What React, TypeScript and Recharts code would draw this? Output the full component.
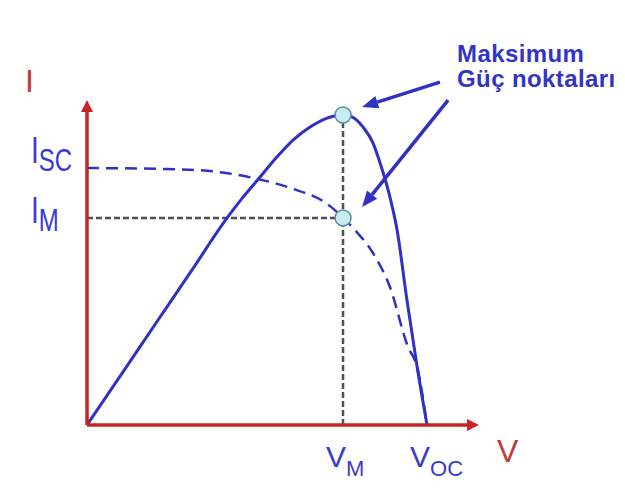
import { ComposedChart, Line, Scatter, XAxis, YAxis, ReferenceLine } from 'recharts'

// units: V as % of Voc, I/P as % of Pmax
const V_OC = 100
const V_M = 75.3
const I_SC = 82.9
const I_M = 66.8
const P_MAX = 100

const POWER_V = [0, 10.2, 20.3, 30.7, 41.2, 45.9, 50.9, 55.9, 60.6, 65.6, 70.6, 75.3, 77.9, 81.2, 84.1, 86.2, 89.1, 91.2, 94.1, 97.1, 100]
const POWER_P = [0, 16.5, 32.9, 49.7, 66.8, 73.5, 80, 86.5, 91.9, 96.1, 99, 100, 99.4, 96.1, 91, 84.5, 73.5, 62.9, 40.3, 18.7, 0]

const IV_V = [0, 22.4, 35.3, 48.8, 59.7, 71.5, 75.3, 78.8, 84.1, 89.1, 94.4, 97.1, 100]
const IV_I = [82.9, 82.6, 82, 79.7, 76.5, 70.6, 66.8, 62.9, 55.5, 44.5, 25.2, 18.7, 0]

const V_TICKS = [V_M, V_OC]
const V_TICK_LABELS = [['V', 'M'], ['V', 'OC']]
const I_TICKS = [I_M, I_SC]
const I_TICK_LABELS = [['I', 'M'], ['I', 'SC']]

const AXIS_V_END = 115.3
const AXIS_I_END = 104.8
const POINTER_TAILS = [{ x: 103.8, y: 110.6 }, { x: 106.2, y: 104.8 }]
const POINTER_HEADS = [{ x: 80.9, y: 102.6 }, { x: 80.9, y: 70.3 }]

const powerData = POWER_V.map((v, k) => ({ v, y: POWER_P[k] }))
const ivData = IV_V.map((v, k) => ({ v, y: IV_I[k] }))
const maxPoints = [{ v: V_M, y: P_MAX }, { v: V_M, y: I_M }]
const vGuide = [{ v: V_M, y: 0 }, { v: V_M, y: P_MAX }]
const iGuide = [{ v: 0, y: I_M }, { v: V_M, y: I_M }]

const RED = '#c92424'
const BLUE = '#3030c4'
const LABEL_BLUE = '#3a3ad0'
const FONT = '"Liberation Sans", Arial, sans-serif'

function arrowShape(color: string, width: number, headLen: number, headW: number) {
  return (p: any) => {
    const { x1, y1, x2, y2 } = p
    const dx = x2 - x1
    const dy = y2 - y1
    const len = Math.sqrt(dx * dx + dy * dy) || 1
    const ux = dx / len
    const uy = dy / len
    const bx = x2 - ux * headLen
    const by = y2 - uy * headLen
    const nx = -uy * headW / 2
    const ny = ux * headW / 2
    return (
      <g>
        <line x1={x1} y1={y1} x2={bx} y2={by} stroke={color} strokeWidth={width} />
        <polygon points={`${x2},${y2} ${bx + nx},${by + ny} ${bx - nx},${by - ny}`} fill={color} />
      </g>
    )
  }
}

function findLabel(ticks: number[], labels: string[][], value: number) {
  const k = ticks.findIndex((t) => Math.abs(t - value) < 1e-6)
  return k < 0 ? ['', ''] : labels[k]
}

const VTick = (props: any) => {
  const { x, y, payload } = props
  const [main, sub] = findLabel(V_TICKS, V_TICK_LABELS, payload.value)
  return (
    <text x={x - 17} y={y + 42} fill={LABEL_BLUE} fontFamily={FONT} fontSize={30} textAnchor="start">
      <tspan>{main}</tspan>
      <tspan dy={9} fontSize={22}>{sub}</tspan>
    </text>
  )
}

const ITick = (props: any) => {
  const { x, y, payload } = props
  const [main, sub] = findLabel(I_TICKS, I_TICK_LABELS, payload.value)
  const dy = sub === 'SC' ? -5 : 5
  return (
    <g transform={`translate(${x - 56},${y + dy}) scale(1,1.3)`}>
      <text x={0} y={0} fill={LABEL_BLUE} fontFamily={FONT} fontSize={28} textAnchor="start">
        <tspan>{main}</tspan>
        <tspan dy={6} fontSize={24}>{sub}</tspan>
      </text>
    </g>
  )
}

const MaxDot = (props: any) => {
  const { cx, cy } = props
  return <circle cx={cx} cy={cy} r={8} fill="#c6ecf2" stroke="#5d8c9c" strokeWidth={1.5} />
}

const noteStyle = {
  position: 'absolute' as const,
  left: 457,
  fontFamily: FONT,
  fontSize: 24,
  lineHeight: '24px',
  letterSpacing: '0.4px',
  fontWeight: 700,
  color: '#3434c4',
  whiteSpace: 'nowrap' as const,
}

export default function App() {
  return (
    <div style={{ position: 'absolute', left: 0, top: 0, width: 625, height: 488, background: '#fff' }}>
      <ComposedChart width={625} height={488} margin={{ top: 22, right: 8, bottom: 0, left: 0 }}>
        <XAxis
          type="number"
          dataKey="v"
          domain={[0, 155.88]}
          ticks={V_TICKS}
          tick={<VTick />}
          tickSize={0}
          tickMargin={0}
          axisLine={false}
          tickLine={false}
          height={63}
          allowDataOverflow
        />
        <YAxis
          type="number"
          dataKey="y"
          domain={[0, 130]}
          ticks={I_TICKS}
          tick={<ITick />}
          tickSize={0}
          tickMargin={0}
          axisLine={false}
          tickLine={false}
          width={87}
          allowDataOverflow
        />
        <Line data={vGuide} dataKey="y" type="linear" stroke="#505050" strokeWidth={2.5}
          strokeDasharray="6 3" dot={false} isAnimationActive={false} />
        <Line data={iGuide} dataKey="y" type="linear" stroke="#505050" strokeWidth={2.5}
          strokeDasharray="6 3" dot={false} isAnimationActive={false} />
        <Line data={ivData} dataKey="y" type="monotone" stroke={BLUE} strokeWidth={2.5}
          strokeDasharray="12 7" dot={false} isAnimationActive={false} />
        <Line data={powerData} dataKey="y" type="monotone" stroke={BLUE} strokeWidth={3}
          dot={false} isAnimationActive={false} />
        <ReferenceLine segment={[{ x: 0, y: 0 }, { x: 0, y: AXIS_I_END }]}
          shape={arrowShape(RED, 3.5, 12, 12)} />
        <ReferenceLine segment={[{ x: 0, y: 0 }, { x: AXIS_V_END, y: 0 }]}
          shape={arrowShape(RED, 3.5, 12, 12)} />
        {POINTER_TAILS.map((t, k) => (
          <ReferenceLine key={k} segment={[t, POINTER_HEADS[k]]} shape={arrowShape(BLUE, 3.5, 16, 13)} />
        ))}
        <Scatter data={maxPoints} dataKey="y" shape={<MaxDot />} isAnimationActive={false} />
      </ComposedChart>
      <div style={{ position: 'absolute', left: 25, top: 65, fontFamily: FONT, fontSize: 32, lineHeight: '32px', color: '#c43a3a' }}>
        I
      </div>
      <div style={{ position: 'absolute', left: 497, top: 435, fontFamily: FONT, fontSize: 32, lineHeight: '32px', color: '#c43a3a' }}>
        V
      </div>
      <div style={{ ...noteStyle, top: 42 }}>Maksimum</div>
      <div style={{ ...noteStyle, top: 67 }}>Güç noktaları</div>
    </div>
  )
}
